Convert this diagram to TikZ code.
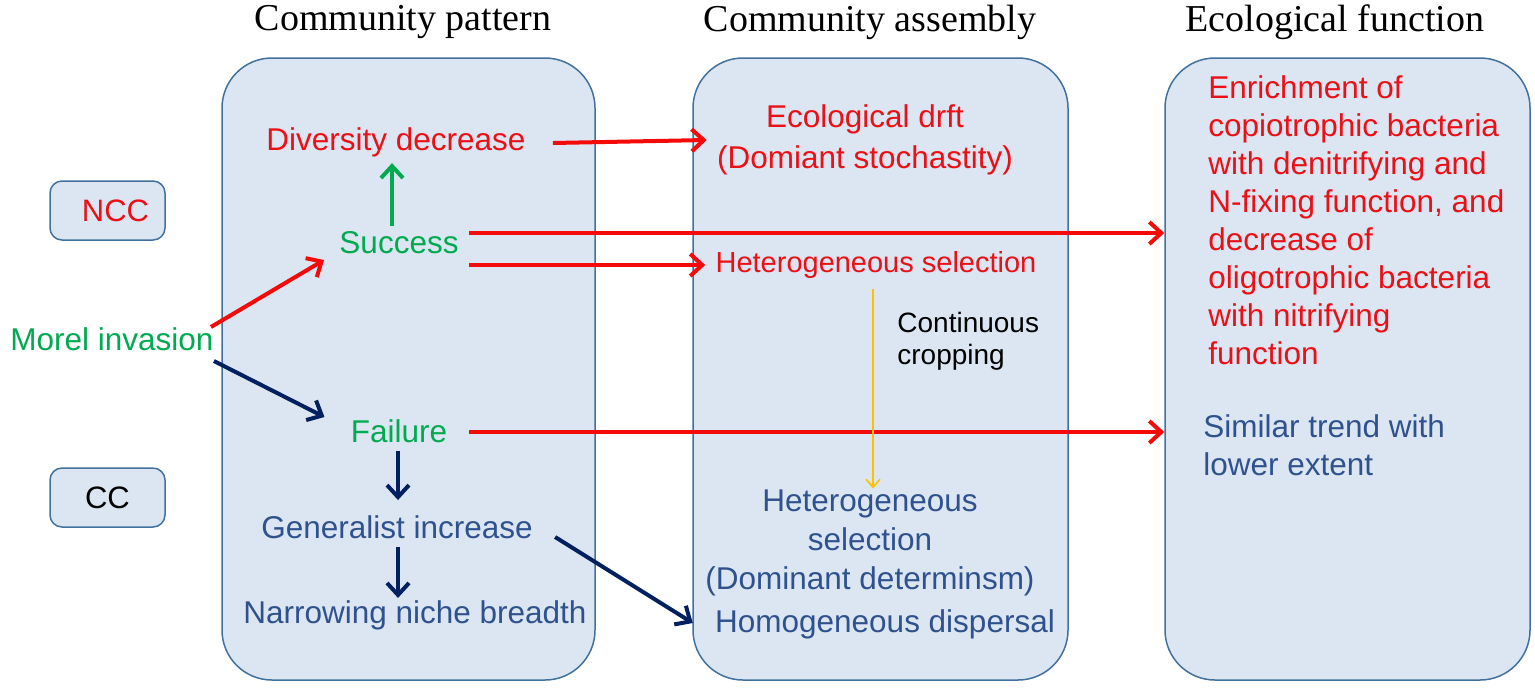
\documentclass[tikz,border=0pt]{standalone}
\usepackage{fontspec}
\setmainfont{Liberation Serif}
\setsansfont{Liberation Sans}
\usepackage{tikz}
\usetikzlibrary{shapes, arrows.meta, positioning, calc}

\definecolor{boxfill}{RGB}{220,230,242}
\definecolor{boxline}{RGB}{65,113,156}
\definecolor{txtred}{RGB}{235,16,22}
\definecolor{arrred}{RGB}{245,10,10}
\definecolor{txtgreen}{RGB}{0,170,80}
\definecolor{txtblue}{RGB}{47,82,143}
\definecolor{navy}{RGB}{0,32,96}
\definecolor{amber}{RGB}{255,192,0}

\tikzset{
    panel/.style={draw=boxline, line width=0.75pt, fill=boxfill, rounded corners=25pt, minimum height=311pt},
    tag/.style={draw=boxline, line width=0.75pt, fill=boxfill, rounded corners=6pt, minimum width=57.5pt, minimum height=29.5pt, font=\sffamily\fontsize{15.5}{18}\selectfont},
    head/.style={font=\fontsize{19}{23}\selectfont, inner sep=0pt},
    txt/.style={font=\sffamily\fontsize{15.75}{19.5}\selectfont, inner sep=0pt, align=center},
    redarr/.style={draw=arrred, line width=2pt, -{Straight Barb[length=6pt, width=11pt]}},
    navyarr/.style={draw=navy, line width=2pt, -{Straight Barb[length=6pt, width=11pt]}},
    greenarr/.style={draw=txtgreen, line width=2pt, -{Straight Barb[length=6pt, width=11pt]}},
    croparr/.style={draw=amber, line width=0.8pt, -{Straight Barb[length=4pt, width=7pt]}}
}

\begin{document}
\begin{tikzpicture}[x=0.5pt, y=-0.5pt]
            \useasboundingbox (0,0) rectangle (1535,687);

            \node[panel, minimum width=186.5pt] (patbox) at (408.5,369) {};
            \node[panel, minimum width=187.5pt] (asmbox) at (880.5,369) {};
            \node[panel, minimum width=182.5pt] (fnbox) at (1347.5,369) {};

            \node[head] (pattitle) at (403,22) {Community pattern};
            \node[head] (asmtitle) at (870,22) {Community assembly};
            \node[head] (fntitle) at (1335,22) {Ecological function};

            \node[tag, text=txtred] (ncc) at (107.5,210.5) {\hspace{8pt}NCC};
            \node[tag] (cc) at (107.5,497.5) {CC};

            \node[txt, text=txtgreen] (morel) at (112,339) {Morel invasion};
            \node[txt, text=txtred] (divdec) at (396,142) {Diversity decrease};
            \node[txt, text=txtgreen] (success) at (399,243) {Success};
            \node[txt, text=txtgreen] (failure) at (399,431) {Failure};
            \node[txt, text=txtblue] (genincr) at (397,527) {Generalist increase};
            \node[txt, text=txtblue] (narrow) at (415,615) {Narrowing niche breadth};

            \node[txt, text=txtred, font=\sffamily\fontsize{15.75}{20.5}\selectfont] (drift) at (865,140) {Ecological drft\\(Domiant stochastity)};
            \node[txt, text=txtred, font=\sffamily\fontsize{14.5}{18}\selectfont] (hetsel) at (876,265) {Heterogeneous selection};
            \node[txt, font=\sffamily\fontsize{14}{16}\selectfont, align=left, anchor=west] (cropping) at (897,341) {Continuous\\cropping};
            \node[txt, text=txtblue] (hetsel2) at (870,543) {Heterogeneous\\selection\\(Dominant determinsm)};
            \node[txt, text=txtblue] (homdisp) at (885,624) {Homogeneous dispersal};

            \node[txt, text=txtred, align=left, anchor=north west, font=\sffamily\fontsize{15.75}{19}\selectfont] (enrich) at (1208,75) {Enrichment of\\copiotrophic bacteria\\with denitrifying and\\N-fixing function, and\\decrease of\\oligotrophic bacteria\\with nitrifying\\function};
            \node[txt, text=txtblue, align=left, anchor=north west, font=\sffamily\fontsize{15.75}{19}\selectfont] (similar) at (1203,414) {Similar trend with\\lower extent};

            \draw[redarr] ($(morel.east)+(-3,-12)$) -- ($(success.west)+(-15,17)$);
            \draw[navyarr] ($(morel.east)+(0,22)$) -- ($(failure.west)+(-26,-14)$);
            \draw[greenarr] ($(success.north)+(-7,-5)$) -- ($(success.north |- divdec.south)+(-7,6)$);
            \draw[redarr] ($(divdec.east)+(27,1)$) -- ($(drift.west)+(-10,0)$);
            \draw[redarr] ($(success.east)+(10,-10)$) -- ($(success.east -| fnbox.west)+(0,-10)$);
            \draw[redarr] ($(success.east)+(10,22)$) -- ($(hetsel.west)+(-10,0)$);
            \draw[redarr] ($(failure.east)+(21,1)$) -- ($(failure.east -| fnbox.west)+(0,1)$);
            \draw[navyarr] ($(failure.south)+(-1,8)$) -- ($(failure.south |- genincr.north)+(-1,-15)$);
            \draw[navyarr] ($(genincr.south)+(1,8)$) -- ($(genincr.south |- narrow.north)+(1,-2)$);
            \draw[navyarr] ($(genincr.east)+(22,10)$) -- ($(homdisp.west)+(-22,-1)$);
            \draw[croparr] ($(hetsel.south)+(-3,10)$) -- ($(hetsel.south |- hetsel2.north)+(-3,-1)$);
        \end{tikzpicture}
\end{document}
